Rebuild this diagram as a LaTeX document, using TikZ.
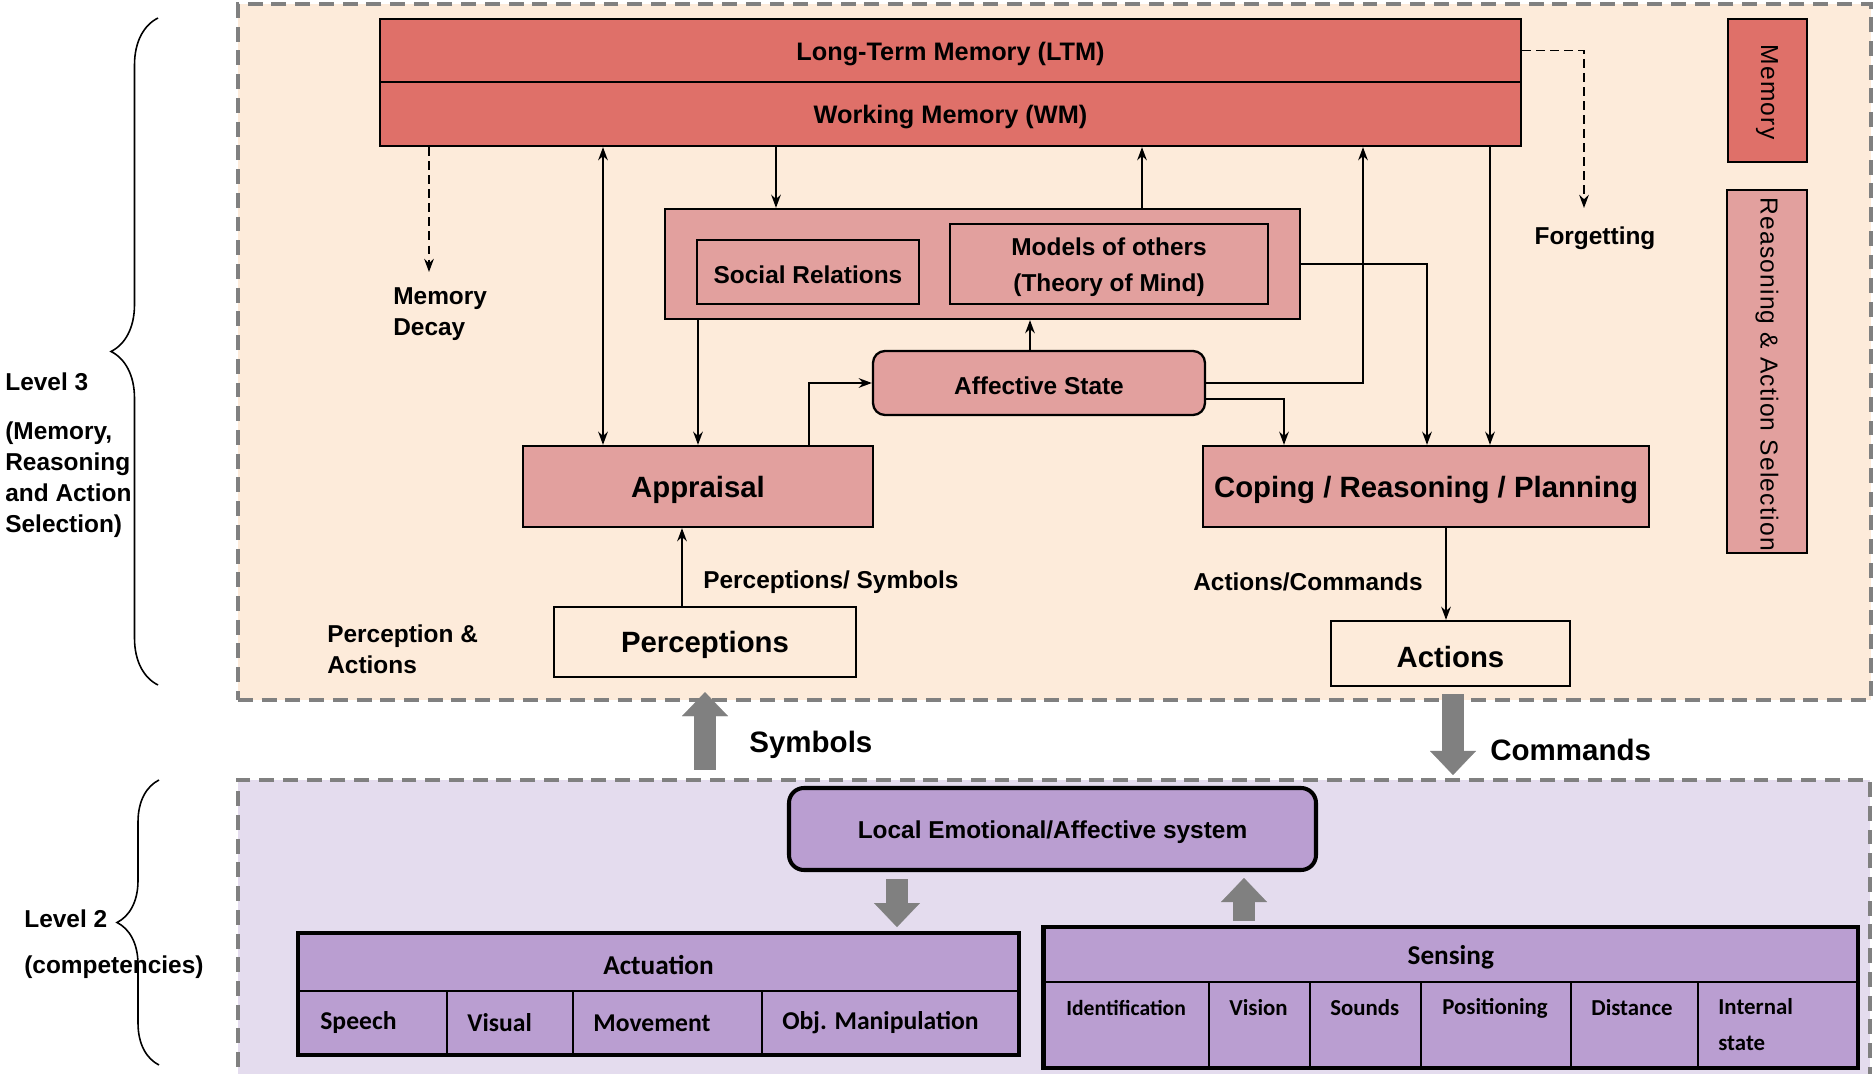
\documentclass[tikz,border=0pt]{standalone}
\usepackage{fontspec}
\setmainfont{Liberation Sans}
\newfontfamily\calfont{Carlito}
\newfontfamily\spacedfont{Liberation Sans}[LetterSpace=5]
\usetikzlibrary{arrows.meta,fit,decorations.pathreplacing,calc}

\definecolor{peach}{HTML}{FDEBDA}
\definecolor{lavender}{HTML}{E4DCEE}
\definecolor{memred}{HTML}{DF7069}
\definecolor{rosebox}{HTML}{E2A09E}
\definecolor{lilac}{HTML}{BA9ED1}
\definecolor{blockgray}{HTML}{808080}

\begin{document}
\begin{tikzpicture}[x=0.02cm,y=-0.02cm,
  med/.style={font=\fontsize{13.9pt}{17.6pt}\selectfont\bfseries, inner sep=0pt},
  boxtext/.style={font=\fontsize{13.9pt}{20.4pt}\selectfont\bfseries, inner sep=0pt, align=center, yshift=-1.8pt},
  memtext/.style={font=\fontsize{14.4pt}{17pt}\selectfont\bfseries, inner sep=0pt, yshift=-1.8pt},
  bigtext/.style={font=\fontsize{16.7pt}{20pt}\selectfont\bfseries, inner sep=0pt, yshift=-1.8pt},
  box/.style={draw=black, line width=1.3pt, inner sep=0pt},
  levelbox/.style={draw=blockgray, line width=2.3pt, dash pattern=on 8.5pt off 5pt, inner sep=0pt},
  sidelabel/.style={rotate=-90, font=\fontsize{14pt}{17pt}\spacedfont, inner sep=0pt},
  arr/.style={line width=1.1pt, -{Stealth[length=7.5pt,width=5.5pt,inset=2.5pt]}},
  dblarr/.style={line width=1.1pt, {Stealth[length=7.5pt,width=5.5pt,inset=2.5pt]}-{Stealth[length=7.5pt,width=5.5pt,inset=2.5pt]}},
  dasharr/.style={line width=1.1pt, dash pattern=on 5pt off 3pt, -{Stealth[length=7.5pt,width=5.5pt,inset=2.5pt]}},
  blockarr/.style={draw=blockgray, line width=0.44cm, -{Triangle[length=0.48cm,width=0.92cm,line width=0.1pt,fill=blockgray]}},
  cell/.style={draw=black, line width=1.1pt, fill=lilac, inner sep=0pt},
  headfont/.style={font=\fontsize{15.5pt}{18pt}\selectfont\calfont\bfseries, inner sep=0pt, yshift=-1.5pt},
  actfont/.style={font=\fontsize{14.6pt}{18pt}\selectfont\calfont\bfseries, inner sep=0pt},
  sensfont/.style={font=\fontsize{13pt}{20.4pt}\selectfont\calfont\bfseries, inner sep=0pt, align=left},
  levelbrace/.style={draw=black, line width=0.9pt, decorate}
]
\useasboundingbox (0,0) rectangle (1874,1074);
\clip (0,0) rectangle (1874,1074);

% ---------- level frames ----------
\node[levelbox, fill=peach, fit={(238,4) (1871,700)}] (lvl3) {};
\node[levelbox, fill=lavender, fit={(238,780) (1870,1110)}] (lvl2) {};

% ---------- level 3: memory ----------
\node[box, fill=memred, fit={(380,19) (1521,82)}] (ltm) {};
\node[memtext] at (ltm.center) {Long-Term Memory (LTM)};
\node[box, fill=memred, fit={(380,82) (1521,146)}] (wm) {};
\node[memtext] at (wm.center) {Working Memory (WM)};

\node[box, fill=memred, fit={(1728,19) (1807,162)}] (memside) {};
\node[sidelabel] (memsidetext) at (1767,92) {Memory};
\node[box, fill=rosebox, fit={(1727,190) (1807,553)}] (rasside) {};
\node[sidelabel] (rassidetext) at (1767,374) {Reasoning \& Action Selection};

\node[med] (forget) at (1595,238) {Forgetting};
\coordinate (forgettip) at (1584,208);
\node[med, anchor=west, align=left] (decay) at (393,314) {Memory\\Decay};
\coordinate (decaytip) at (429,272);

% ---------- level 3: social models, affect, appraisal, coping ----------
\node[box, fill=rosebox, fit={(665,209) (1300,319)}] (social) {};
\node[box, fill=rosebox, fit={(697,240) (919,304)}] (socrel) {};
\node[boxtext] at (socrel.center) {Social Relations};
\node[box, fill=rosebox, fit={(950,224) (1268,304)}] (models) {};
\node[boxtext] at (models.center) {Models of others\\(Theory of Mind)};

\node[box, fill=rosebox, rounded corners=0.24cm, fit={(873,351) (1205,415)}] (affect) {};
\node[boxtext] at (affect.center) {Affective State};

\node[box, fill=rosebox, fit={(523,446) (873,527)}] (appraisal) {};
\node[bigtext] at (appraisal.center) {Appraisal};
\node[box, fill=rosebox, fit={(1203,446) (1649,527)}] (coping) {};
\node[bigtext] at (coping.center) {Coping / Reasoning / Planning};

\node[box, fill=peach, fit={(554,607) (856,677)}] (perc) {};
\node[bigtext] at (perc.center) {Perceptions};
\node[box, fill=peach, fit={(1331,621) (1570,686)}] (actions) {};
\node[bigtext] at (actions.center) {Actions};

\node[med, anchor=west] (perclbl) at (703,582) {Perceptions/ Symbols};
\node[med, anchor=west] (actlbl) at (1193,582) {Actions/Commands};
\node[med, anchor=west, align=left] (palbl) at (327,649) {Perception \&\\Actions};

% ---------- level 3 connectors ----------
\draw[dasharr] (ltm.east) -| (forgettip);
\draw[dasharr] (429,0 |- wm.south) -- (decaytip);
\draw[dblarr] (603,0 |- wm.south) -- (603,0 |- appraisal.north);
\draw[arr] (776,0 |- wm.south) -- (776,0 |- social.north);
\draw[arr] (1142,0 |- social.north) -- (1142,0 |- wm.south);
\draw[arr] (affect.east) -| (1363,0 |- wm.south);
\draw[arr] (1490,0 |- wm.south) -- (1490,0 |- coping.north);
\draw[arr] (social.east) -| (1427,0 |- coping.north);
\draw[arr] (affect.east |- 0,399) -| (1284,0 |- coping.north);
\draw[arr] (1030,0 |- affect.north) -- (1030,0 |- social.south);
\draw[arr] (698,0 |- social.south) -- (698,0 |- appraisal.north);
\draw[arr] (809,0 |- appraisal.north) |- (affect.west);
\draw[arr] (682,0 |- perc.north) -- (682,0 |- appraisal.south);
\draw[arr] (1446,0 |- coping.south) -- (1446,0 |- actions.north);

% ---------- level 2 ----------
\node[box, fill=lilac, line width=2.3pt, rounded corners=0.3cm, fit={(789,788) (1316,870)}] (local) {};
\node[boxtext] at (local.center) {Local Emotional/Affective system};

% actuation table
\node[cell, fit={(299,934) (1018,991)}] (acthead) {};
\node[headfont] at (acthead.center) {Actuation};
\node[cell, fit={(299,991) (447,1054)}] (speech) {};
\node[cell, fit={(447,991) (573,1054)}] (visual) {};
\node[cell, fit={(573,991) (762,1054)}] (movement) {};
\node[cell, fit={(762,991) (1018,1054)}] (objman) {};
\draw[line width=2.7pt] (acthead.north west) rectangle (objman.south east);
\node[actfont, anchor=west] at (320,1023) {Speech};
\node[actfont, anchor=west] at (467,1023) {Visual};
\node[actfont, anchor=west] at (593,1023) {Movement};
\node[actfont, anchor=west] at (782,1023) {Obj. Manipulation};

% sensing table
\node[cell, fit={(1044.5,928) (1857,982)}] (senshead) {};
\node[headfont] at (senshead.center) {Sensing};
\node[cell, fit={(1044.5,982) (1208.7,1067)}] (ident) {};
\node[cell, fit={(1208.7,982) (1310,1067)}] (vision) {};
\node[cell, fit={(1310,982) (1421,1067)}] (sounds) {};
\node[cell, fit={(1421,982) (1571,1067)}] (position) {};
\node[cell, fit={(1571,982) (1698,1067)}] (distance) {};
\node[cell, fit={(1698,982) (1857,1067)}] (internal) {};
\draw[line width=2.7pt] (senshead.north west) rectangle (internal.south east);
\node[sensfont, font=\fontsize{12.3pt}{20pt}\selectfont\calfont\bfseries, anchor=west] at (1066,1008) {Identification};
\node[sensfont, anchor=west] at (1229,1008) {Vision};
\node[sensfont, anchor=west] at (1330,1008) {Sounds};
\node[sensfont, anchor=west] at (1442,1008) {Positioning};
\node[sensfont, anchor=west] at (1591,1008) {Distance};
\node[sensfont, anchor=north west] at (1718,998) {Internal\\state};

% ---------- block arrows between levels ----------
\draw[blockarr, shorten <=8*0.02cm, shorten >=14*0.02cm] (705,0 |- lvl2.north) -- (705,0 |- perc.south);
\draw[blockarr, shorten <=7*0.02cm, shorten >=3*0.02cm] (1453,0 |- actions.south) -- (1453,0 |- lvl2.north);
\draw[blockarr, shorten <=7*0.02cm, shorten >=6*0.02cm] (897,0 |- local.south) -- (897,0 |- acthead.north);
\draw[blockarr, shorten <=6*0.02cm, shorten >=6*0.02cm] (1244,0 |- senshead.north) -- (1244,0 |- local.south);

\node[anchor=west, inner sep=0pt, font=\fontsize{16.8pt}{20pt}\selectfont\bfseries] (symlbl) at (749,745) {Symbols};
\node[anchor=west, inner sep=0pt, font=\fontsize{16.8pt}{20pt}\selectfont\bfseries] (cmdlbl) at (1490,750) {Commands};

% ---------- level labels and braces ----------
\draw[levelbrace, decoration={brace, amplitude=0.94cm}] (158,685) -- (158,18);
\node[med, anchor=west] (l3) at (5,382) {Level 3};
\node[med, anchor=west, align=left] (l3d) at (5,479.5) {(Memory,\\Reasoning\\and Action\\Selection)};

\draw[levelbrace, decoration={brace, amplitude=0.84cm}] (159,1065) -- (159,780);
\node[med, anchor=west] (l2) at (24,919) {Level 2};
\node[med, anchor=west] (l2d) at (24,967) {(competencies)};
\end{tikzpicture}
\end{document}
